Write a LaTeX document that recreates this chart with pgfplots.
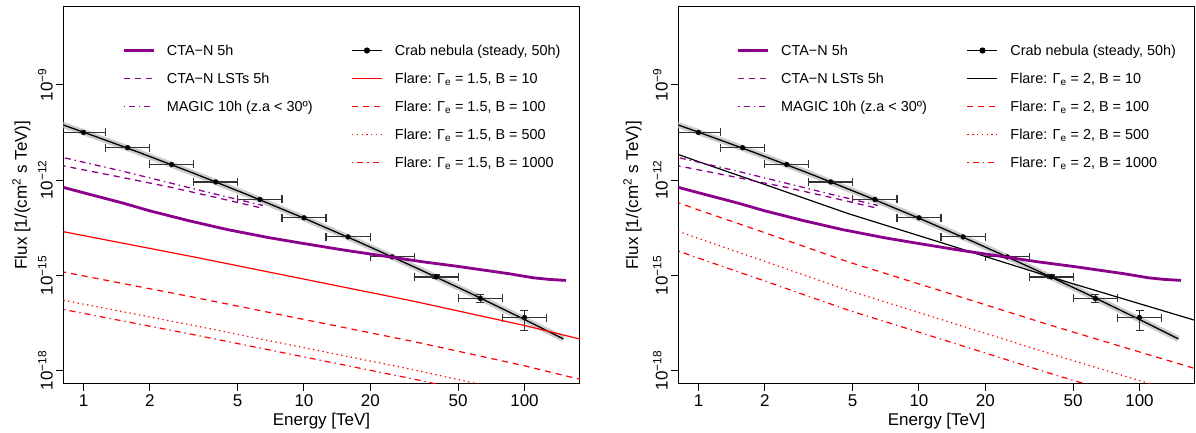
\documentclass[border=0pt]{standalone}
\usepackage{pgfplots}
\pgfplotsset{compat=1.18}
\usepackage{fontspec}
\setmainfont{Liberation Sans}
\definecolor{dmag}{HTML}{8B008B}
\newcommand{\tf}{\fontsize{17}{20}\selectfont}
\newcommand{\lf}{\fontsize{14.4}{17}\selectfont}

\tikzset{
 zzband/.style={gray!40, line width=6pt},
 zzcline/.style={black, line width=1.3pt},
 zzctan/.style={dmag, line width=2.8pt},
 zzlst/.style={dmag, line width=1.3pt, dash pattern=on 6pt off 5pt},
 zzmagic/.style={dmag, line width=1.3pt, dash pattern=on 1.3pt off 4pt on 6pt off 4pt},
 zzfa/.style={line width=1.2pt},
 zzfb/.style={red, line width=1.2pt, dash pattern=on 6pt off 5pt},
 zzfc/.style={red, line width=1.2pt, dash pattern=on 1.3pt off 3.5pt},
 zzfd/.style={red, line width=1.2pt, dash pattern=on 1.3pt off 4pt on 6pt off 4pt},
}

\newcommand{\crabdata}{%
\addplot[zzband, forget plot] coordinates {(0.78,5.93e-11) (1,3.23e-11) (1.778,7.52e-12) (3.162,1.637e-12) (5.623,3.322e-13) (10,6.295e-14) (17.78,1.113e-14) (31.62,1.837e-15) (56.23,2.828e-16) (100,4.064e-17) (150,9.95e-18)};
\addplot[zzcline, forget plot] coordinates {(0.78,5.93e-11) (1,3.23e-11) (1.778,7.52e-12) (3.162,1.637e-12) (5.623,3.322e-13) (10,6.295e-14) (17.78,1.113e-14) (31.62,1.837e-15) (56.23,2.828e-16) (100,4.064e-17) (150,9.95e-18)};
\addplot[black, only marks, mark=*, mark size=2.4pt, forget plot,
   error bars/x dir=both, error bars/x explicit, error bars/y dir=both, error bars/y explicit,
   error bars/error bar style={black!80, line width=1.2pt},
   error bars/error mark options={black!80, line width=1.2pt, mark size=4pt, rotate=90}] coordinates {
(1,3.16e-11) += (0.259,0) -= (0.206,0)
(1.585,1.047e-11) += (0.410,0) -= (0.326,0)
(2.512,3.09e-12) += (0.650,0) -= (0.517,0)
(3.981,8.71e-13) += (1.031,0) -= (0.819,0)
(6.31,2.455e-13) += (1.634,0) -= (1.298,0)
(10,6.46e-14) += (2.589,0) -= (2.057,0)
(15.85,1.622e-14) += (4.103,0) -= (3.260,0)
(25.12,3.80e-15) += (6.503,2e-16) -= (5.167,2e-16)
(39.81,8.91e-16) += (10.31,1.32e-16) -= (8.19,1.15e-16)
(63.1,1.862e-16) += (16.34,0.65e-16) -= (12.98,0.48e-16)
(100,4.68e-17) += (25.89,3.26e-17) -= (20.57,2.82e-17)
};
}

\newcommand{\sensdata}{%
\addplot[zzctan] coordinates {(0.78,6.31e-13) (1.0,3.98e-13) (1.5,1.905e-13) (2.0,1.072e-13) (3.0,5.25e-14) (4.5,2.75e-14) (7,1.514e-14) (10,1.0e-14) (15,6.31e-15) (25,3.72e-15) (35,2.63e-15) (50,1.905e-15) (85,1.122e-15) (110,8.32e-16) (130,7.41e-16) (154,6.92e-16)};
\addlegendentry{CTA−N 5h}
\addplot[zzlst] coordinates {(0.78,2.95e-12) (1.5,1.202e-12) (2.5,5.89e-13) (4.0,2.82e-13) (6.5,1.288e-13)};
\addlegendentry{CTA−N LSTs 5h}
\addplot[zzmagic] coordinates {(0.78,5.43e-12) (1.5,1.905e-12) (2.5,7.94e-13) (4.0,3.55e-13) (6.5,1.585e-13)};
\addlegendentry{MAGIC 10h (z.a < 30º)}
}

\pgfplotsset{
  legend image code/.code={\draw[mark repeat=2,mark phase=2,#1] plot coordinates {(0pt,0pt) (15pt,0pt) (30pt,0pt)}; \path[draw=none, fill=none] (0pt,-7.25pt) rectangle (43pt,7.25pt);},
  legend style={draw=none, fill=none, inner sep=0pt, outer sep=0pt, row sep=13.5pt, font=\lf, anchor=north west, nodes={inner sep=0pt, text height=12pt, text depth=2.5pt}},
  legend cell align=left,
  xtick={1,2,5,10,20,50,100}, xticklabels={1,2,5,10,20,50,100},
  ytick={1e-18,1e-15,1e-12,1e-9},
  yticklabels={10\textsuperscript{−18},10\textsuperscript{−15},10\textsuperscript{−12},10\textsuperscript{−9}},
  xminorticks=false, yminorticks=false,
  tick align=outside, major tick length=7pt, xtick pos=left, ytick pos=left,
  major tick style={black, line width=1pt},
  axis line style={black, line width=1pt},
  ticklabel style={font=\tf},
  yticklabel style={rotate=90, anchor=south},
  every axis x label/.style={at={(axis description cs:0.5,-0.1118)}, anchor=base, font=\tf},
}

\begin{document}
\begin{tikzpicture}
\useasboundingbox (0pt,0pt) rectangle (1196pt,433pt);
% ---------------- left panel ----------------
\begin{axis}[scale only axis, width=516.5pt, height=377.3pt,
  xmode=log, ymode=log, xmin=0.81, xmax=178.2, ymin=3.83e-19, ymax=2.92e-7,
  at={(63.3pt,49.2pt)}, anchor=south west,
  xlabel={Energy [TeV]}, ylabel={Flux [1/(cm\textsuperscript{2} s TeV)]},
  every axis y label/.style={at={(axis description cs:-0.0707,0.5)}, anchor=base, rotate=90, font=\tf},
  legend style={at={(axis description cs:0.5576,0.9026)}}]
\crabdata
\addplot[zzfa, red, forget plot] coordinates {(0.7,2.88e-14) (3.162,3.80e-15) (10,7.59e-16) (31.62,1.514e-16) (100,2.63e-17) (200,8.13e-18)};
\addplot[zzfb, forget plot] coordinates {(0.7,1.549e-15) (3.162,2.04e-16) (10,4.07e-17) (31.62,8.13e-18) (100,1.413e-18) (200,4.37e-19)};
\addplot[zzfc, forget plot] coordinates {(0.7,2.0e-16) (3.162,2.63e-17) (10,5.25e-18) (31.62,1.047e-18) (100,1.82e-19) (200,5.62e-20)};
\addplot[zzfd, forget plot] coordinates {(0.7,1.023e-16) (3.162,1.349e-17) (10,2.69e-18) (31.62,5.37e-19) (100,9.33e-20) (200,2.88e-20)};
\addlegendimage{black, line width=1.3pt, mark=*, mark size=2.4pt}
\addlegendentry{Crab nebula (steady, 50h)}
\addlegendimage{zzfa, red}
\addlegendentry{Flare: Γ\textsubscript{e} = 1.5, B = 10}
\addlegendimage{zzfb}
\addlegendentry{Flare: Γ\textsubscript{e} = 1.5, B = 100}
\addlegendimage{zzfc}
\addlegendentry{Flare: Γ\textsubscript{e} = 1.5, B = 500}
\addlegendimage{zzfd}
\addlegendentry{Flare: Γ\textsubscript{e} = 1.5, B = 1000}
\end{axis}
\begin{axis}[scale only axis, width=516.5pt, height=377.3pt,
  xmode=log, ymode=log, xmin=0.81, xmax=178.2, ymin=3.83e-19, ymax=2.92e-7,
  at={(63.3pt,49.2pt)}, anchor=south west, hide axis,
  legend style={at={(axis description cs:0.1146,0.9026)}}]
\sensdata
\end{axis}
% ---------------- right panel ----------------
\begin{axis}[scale only axis, width=516.5pt, height=377.3pt,
  xmode=log, ymode=log, xmin=0.81, xmax=178.2, ymin=3.83e-19, ymax=2.92e-7,
  at={(678.3pt,49.2pt)}, anchor=south west,
  xlabel={Energy [TeV]}, ylabel={Flux [1/(cm\textsuperscript{2} s TeV)]},
  every axis y label/.style={at={(axis description cs:-0.078,0.5)}, anchor=base, rotate=90, font=\tf},
  legend style={at={(axis description cs:0.5586,0.9026)}}]
\crabdata
\addplot[zzfa, black, forget plot] coordinates {(0.7,9.12e-12) (1,3.80e-12) (2,7.24e-13) (4.79,8.71e-14) (12.6,1.072e-14) (39.8,8.71e-16) (89.1,1.622e-16) (200,3.02e-17)};
\addplot[zzfb, forget plot] coordinates {(0.7,2.75e-13) (1,1.148e-13) (2,2.19e-14) (4.79,2.63e-15) (12.6,3.24e-16) (39.8,2.63e-17) (89.1,4.90e-18) (200,9.12e-19)};
\addplot[zzfc, forget plot] coordinates {(0.7,3.47e-14) (1,1.445e-14) (2,2.75e-15) (4.79,3.31e-16) (12.6,4.07e-17) (39.8,3.31e-18) (89.1,6.17e-19) (200,1.148e-19)};
\addplot[zzfd, forget plot] coordinates {(0.7,8.32e-15) (1,3.47e-15) (2,6.61e-16) (4.79,7.94e-17) (12.6,9.77e-18) (39.8,7.94e-19) (89.1,1.479e-19) (200,2.75e-20)};
\addlegendimage{black, line width=1.3pt, mark=*, mark size=2.4pt}
\addlegendentry{Crab nebula (steady, 50h)}
\addlegendimage{zzfa, black}
\addlegendentry{Flare: Γ\textsubscript{e} = 2, B = 10}
\addlegendimage{zzfb}
\addlegendentry{Flare: Γ\textsubscript{e} = 2, B = 100}
\addlegendimage{zzfc}
\addlegendentry{Flare: Γ\textsubscript{e} = 2, B = 500}
\addlegendimage{zzfd}
\addlegendentry{Flare: Γ\textsubscript{e} = 2, B = 1000}
\end{axis}
\begin{axis}[scale only axis, width=516.5pt, height=377.3pt,
  xmode=log, ymode=log, xmin=0.81, xmax=178.2, ymin=3.83e-19, ymax=2.92e-7,
  at={(678.3pt,49.2pt)}, anchor=south west, hide axis,
  legend style={at={(axis description cs:0.1133,0.9026)}}]
\sensdata
\end{axis}
\end{tikzpicture}
\end{document}
